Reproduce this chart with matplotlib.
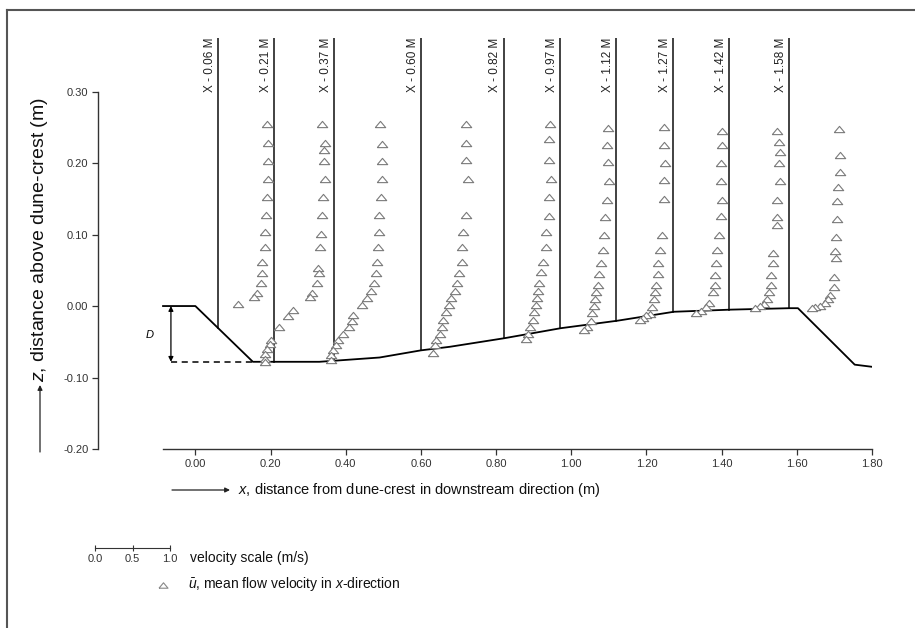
import numpy as np
import matplotlib
matplotlib.use("Agg")
import matplotlib.pyplot as plt
from matplotlib.lines import Line2D

plt.rcParams["font.family"] = ["Liberation Sans", "DejaVu Sans"]
plt.rcParams["mathtext.fontset"] = "custom"
plt.rcParams["mathtext.rm"] = "Liberation Sans"
plt.rcParams["mathtext.it"] = "Liberation Sans:italic"

# ── bed profile (x, z in m) ───────────────────────────────────────────────
bed_x = [-0.086, 0.0, 0.153, 0.33, 0.49, 0.60, 0.677, 0.822, 0.972, 1.123, 1.273, 1.426, 1.581, 1.603, 1.754, 1.80]
bed_z = [0.0, 0.0, -0.078, -0.078, -0.072, -0.062, -0.057, -0.045, -0.031, -0.0205, -0.008, -0.005, -0.003, -0.003, -0.082, -0.085]

# ── measuring stations (m) ────────────────────────────────────────────────
stations = [0.06, 0.21, 0.37, 0.60, 0.82, 0.97, 1.12, 1.27, 1.42, 1.58]

# mean velocity u (m/s) and height z (m) per station
u_006 = [0.65, 0.66, 0.67, 0.66, 0.65, 0.64, 0.63, 0.62, 0.59, 0.59, 0.57, 0.52, 0.48, 0.27]
z_006 = [0.254, 0.228, 0.203, 0.178, 0.153, 0.127, 0.103, 0.082, 0.062, 0.046, 0.032, 0.018, 0.012, 0.003]

u_021 = [0.64, 0.67, 0.66, 0.66, 0.67, 0.65, 0.64, 0.62, 0.61, 0.58, 0.59, 0.57, 0.50, 0.47, 0.25, 0.18, 0.06,
         -0.04, -0.06, -0.10, -0.12, -0.12, -0.12]
z_021 = [0.254, 0.228, 0.219, 0.203, 0.178, 0.153, 0.127, 0.101, 0.082, 0.053, 0.046, 0.032, 0.018, 0.012,
         -0.005, -0.014, -0.030, -0.047, -0.053, -0.060, -0.067, -0.074, -0.078]

u_037 = [0.61, 0.63, 0.63, 0.63, 0.62, 0.59, 0.59, 0.58, 0.56, 0.55, 0.52, 0.48, 0.43, 0.36, 0.25, 0.23, 0.19,
         0.11, 0.05, 0.02, -0.02, -0.04, -0.04]
z_037 = [0.254, 0.227, 0.203, 0.178, 0.152, 0.127, 0.103, 0.082, 0.062, 0.046, 0.032, 0.021, 0.011, 0.001,
         -0.013, -0.021, -0.029, -0.039, -0.048, -0.055, -0.062, -0.069, -0.076]

u_060 = [0.60, 0.60, 0.60, 0.62, 0.60, 0.56, 0.55, 0.54, 0.51, 0.48, 0.45, 0.40, 0.37, 0.34, 0.30, 0.28, 0.26,
         0.20, 0.19, 0.16]
z_060 = [0.254, 0.228, 0.204, 0.178, 0.127, 0.103, 0.083, 0.062, 0.046, 0.032, 0.021, 0.011, 0.001, -0.009,
         -0.019, -0.030, -0.039, -0.048, -0.055, -0.065]

u_082 = [0.62, 0.61, 0.61, 0.63, 0.60, 0.60, 0.57, 0.56, 0.53, 0.50, 0.47, 0.46, 0.44, 0.43, 0.40, 0.39, 0.35,
         0.32, 0.30]
z_082 = [0.254, 0.234, 0.204, 0.178, 0.152, 0.126, 0.103, 0.083, 0.062, 0.047, 0.032, 0.021, 0.011, 0.001,
         -0.009, -0.019, -0.030, -0.039, -0.046]

u_097 = [0.64, 0.63, 0.64, 0.65, 0.63, 0.60, 0.59, 0.57, 0.55, 0.52, 0.50, 0.48, 0.47, 0.45, 0.43, 0.41, 0.36, 0.32]
z_097 = [0.249, 0.226, 0.201, 0.175, 0.149, 0.124, 0.099, 0.079, 0.060, 0.045, 0.030, 0.019, 0.010, 0.000,
         -0.010, -0.021, -0.030, -0.033]

u_112 = [0.64, 0.64, 0.65, 0.64, 0.64, 0.61, 0.58, 0.56, 0.55, 0.53, 0.52, 0.50, 0.47, 0.45, 0.40, 0.36, 0.32]
z_112 = [0.251, 0.226, 0.200, 0.176, 0.150, 0.099, 0.079, 0.060, 0.045, 0.030, 0.019, 0.010, -0.002, -0.011,
         -0.013, -0.017, -0.020]

u_127 = [0.66, 0.66, 0.64, 0.64, 0.65, 0.64, 0.61, 0.59, 0.58, 0.56, 0.56, 0.53, 0.48, 0.44, 0.38, 0.31]
z_127 = [0.245, 0.225, 0.200, 0.175, 0.149, 0.126, 0.099, 0.079, 0.060, 0.044, 0.030, 0.019, 0.004, -0.002,
         -0.007, -0.010]

u_142 = [0.64, 0.66, 0.67, 0.66, 0.67, 0.64, 0.63, 0.63, 0.58, 0.58, 0.56, 0.55, 0.53, 0.51, 0.47, 0.41, 0.35]
z_142 = [0.245, 0.230, 0.215, 0.200, 0.175, 0.149, 0.125, 0.113, 0.074, 0.060, 0.044, 0.030, 0.019, 0.010,
         0.003, 0.000, -0.003]

u_158 = [0.66, 0.67, 0.68, 0.65, 0.64, 0.64, 0.62, 0.61, 0.62, 0.60, 0.59, 0.54, 0.51, 0.48, 0.41, 0.34, 0.30]
z_158 = [0.248, 0.212, 0.187, 0.167, 0.147, 0.122, 0.097, 0.077, 0.067, 0.041, 0.026, 0.015, 0.010, 0.004,
         0.000, -0.002, -0.003]

profiles_u = [u_006, u_021, u_037, u_060, u_082, u_097, u_112, u_127, u_142, u_158]
profiles_z = [z_006, z_021, z_037, z_060, z_082, z_097, z_112, z_127, z_142, z_158]

VEL_SCALE = 0.2      # metres of x per 1 m/s of velocity
TOP = 0.375          # top of station lines
crest_depth = -0.078

# flat open triangle, like the original plotting package
TRI = [(-1.0, -0.6), (1.0, -0.6), (0.0, 0.6), (-1.0, -0.6)]

fig = plt.figure(figsize=(9.15, 6.28), dpi=100)
ax = fig.add_axes([98 / 915, 1 - 449 / 628, (872 - 98) / 915, (449 - 38) / 628])
ax.set_xlim(-0.259, 1.80)
ax.set_ylim(-0.20, TOP)

# bed
ax.plot(bed_x, bed_z, color="black", lw=1.3, zorder=3)

# trough depth D
ax.plot([-0.065, 0.153], [crest_depth, crest_depth], color="black", lw=1.1, ls=(0, (4, 3)))
ax.annotate("", xy=(-0.065, crest_depth), xytext=(-0.065, 0.0),
            arrowprops=dict(arrowstyle="<|-|>", color="black", lw=0.9, mutation_scale=7, shrinkA=0, shrinkB=0))
ax.text(-0.122, -0.04, "D", fontsize=8, style="italic", ha="center", va="center")

# station lines and labels
for xs in stations:
    zb = np.interp(xs, bed_x, bed_z)
    ax.plot([xs, xs], [zb, TOP], color="#333333", lw=1.3, zorder=2)
    ax.text(xs - 0.006, TOP, f"X - {xs:.2f} M", rotation=90, ha="right", va="top", fontsize=8.5, color="#222222")

# velocity profiles
for xs, uu, zz in zip(stations, profiles_u, profiles_z):
    ax.plot(xs + np.array(uu) * VEL_SCALE, zz, ls="none", marker=TRI, ms=7.5,
            mfc="white", mec="#7a7a7a", mew=0.8, zorder=4)

# axes styling
for s in ("top", "right"):
    ax.spines[s].set_visible(False)
ax.spines["left"].set_bounds(-0.20, 0.30)
ax.spines["bottom"].set_bounds(-0.085, 1.80)
for s in ("left", "bottom"):
    ax.spines[s].set_color("#333333")
    ax.spines[s].set_linewidth(1.0)
ax.set_xticks(np.arange(0, 1.81, 0.2))
ax.set_xticklabels([f"{v:.2f}" for v in np.arange(0, 1.81, 0.2)])
ax.set_yticks(np.arange(-0.2, 0.31, 0.1))
ax.set_yticklabels([f"{v:.2f}" for v in np.arange(-0.2, 0.31, 0.1)])
ax.tick_params(labelsize=8, colors="#333333", length=4, width=0.9, pad=3)

# axis labels with arrows
fig.text(238 / 915, 1 - 490 / 628, r"$x$, distance from dune-crest in downstream direction (m)",
         fontsize=10.5, ha="left", va="center", color="#111111")
fig.text(40 / 915, 1 - 382 / 628, r"$z$, distance above dune-crest (m)", rotation=90,
         fontsize=14, ha="center", va="bottom", color="#111111")
ax.annotate("", xy=(230 / 915, 1 - 490 / 628), xytext=(172 / 915, 1 - 490 / 628),
            xycoords="figure fraction", textcoords="figure fraction",
            arrowprops=dict(arrowstyle="-|>", color="#222222", lw=0.9, mutation_scale=7, shrinkA=0, shrinkB=0))
ax.annotate("", xy=(40 / 915, 1 - 385 / 628), xytext=(40 / 915, 1 - 452 / 628),
            xycoords="figure fraction", textcoords="figure fraction",
            arrowprops=dict(arrowstyle="-|>", color="#222222", lw=0.9, mutation_scale=7, shrinkA=0, shrinkB=0))

# velocity scale bar
sax = fig.add_axes([95 / 915, 1 - 548 / 628, 75 / 915, 0.01])
sax.set_xlim(0, 1.0)
sax.set_ylim(0, 1)
for s in ("top", "right", "left"):
    sax.spines[s].set_visible(False)
sax.spines["bottom"].set_color("#333333")
sax.set_yticks([])
sax.set_xticks([0.0, 0.5, 1.0])
sax.set_xticklabels(["0.0", "0.5", "1.0"])
sax.tick_params(axis="x", direction="inout", length=4, labelsize=8, colors="#333333", pad=2)
sax.patch.set_alpha(0)
fig.text(190 / 915, 1 - 558 / 628, "velocity scale (m/s)", fontsize=10, ha="left", va="center", color="#111111")

# legend marker
fig.add_artist(Line2D([163 / 915], [1 - 585 / 628], ls="none", marker=TRI, ms=6.5,
                      mfc="white", mec="#888888", mew=0.8))
fig.text(188 / 915, 1 - 584 / 628, r"$\bar{u}$, mean flow velocity in $x$-direction", fontsize=10,
         ha="left", va="center", color="#111111")

# figure frame
fig.add_artist(Line2D([7 / 915, 7 / 915], [0, 1 - 10 / 628], color="#555555", lw=1.5))
fig.add_artist(Line2D([7 / 915, 1], [1 - 10 / 628, 1 - 10 / 628], color="#555555", lw=1.5))

fig.savefig("out.png", dpi=100)
